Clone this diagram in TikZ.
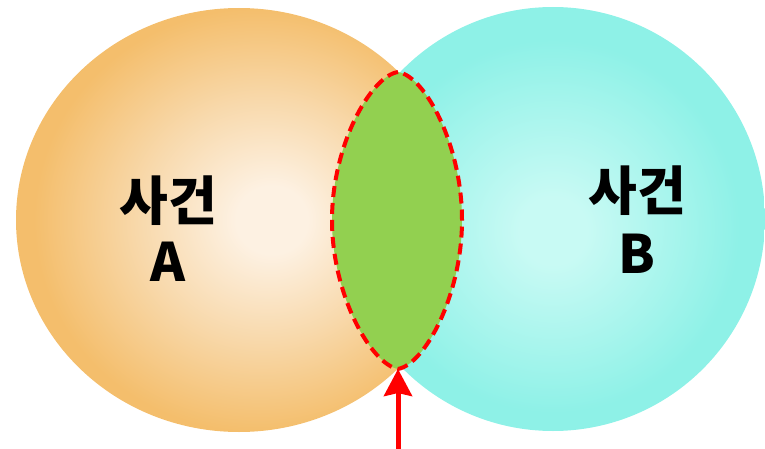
\documentclass[tikz,border=0pt]{standalone}
\usepackage{fontspec}
\newfontfamily\kr{Noto Sans CJK KR}
\usetikzlibrary{arrows.meta}
\definecolor{lcA}{HTML}{FDF1E2}
\definecolor{lcB}{HTML}{F8D9AC}
\definecolor{lcC}{HTML}{F4BE6C}
\definecolor{rcA}{HTML}{C8FAF4}
\definecolor{rcB}{HTML}{8EF1E7}
\definecolor{lensgreen}{HTML}{92D050}
\definecolor{vred}{HTML}{FF0000}
\pgfdeclareradialshading{lshade}{\pgfpoint{4bp}{0bp}}{color(0bp)=(lcA); color(4bp)=(lcA); color(14bp)=(lcB); color(25bp)=(lcC); color(50bp)=(lcC)}
\pgfdeclareradialshading{rshade}{\pgfpoint{0bp}{-1.5bp}}{color(0bp)=(rcA); color(4bp)=(rcA); color(22bp)=(rcB); color(50bp)=(rcB)}
\tikzset{
  lbl/.style={font=\kr\bfseries\fontsize{53}{53}\selectfont, text=black, inner sep=0pt, anchor=base},
  lensstyle/.style={fill=lensgreen, draw=vred, line width=4pt, dash pattern=on 11pt off 6pt},
  arrowline/.style={draw=vred, line width=5pt, -{Stealth[length=27pt,width=28pt,inset=3pt]}}
}
\begin{document}
\begin{tikzpicture}[x=1pt,y=-1pt]
\useasboundingbox (0,0) rectangle (765,449);
\shade[shading=lshade] (239,220) ellipse [x radius=223pt, y radius=212pt];
\shade[shading=rshade] (553,219) ellipse [x radius=212pt, y radius=212pt];
\coordinate (lenstop) at (398,72);
\coordinate (lensbot) at (398,369);
\coordinate (lensleft) at (332,220);
\coordinate (lensright) at (462,220);
\draw[lensstyle] (lenstop) .. controls (371,76) and (332,145) .. (lensleft)
  .. controls (332,295) and (371,364) .. (lensbot)
  .. controls (425,364) and (462,295) .. (lensright)
  .. controls (462,145) and (425,76) .. (lenstop) -- cycle;
\coordinate (arrowfoot) at (398,449);
\draw[arrowline] (arrowfoot) -- (lensbot);
\node[lbl] (a1) at (168,220) {사건};
\node[lbl] (a2) at (168,281) {A};
\node[lbl] (b1) at (637,211) {사건};
\node[lbl] (b2) at (637,273) {B};
\end{tikzpicture}
\end{document}
